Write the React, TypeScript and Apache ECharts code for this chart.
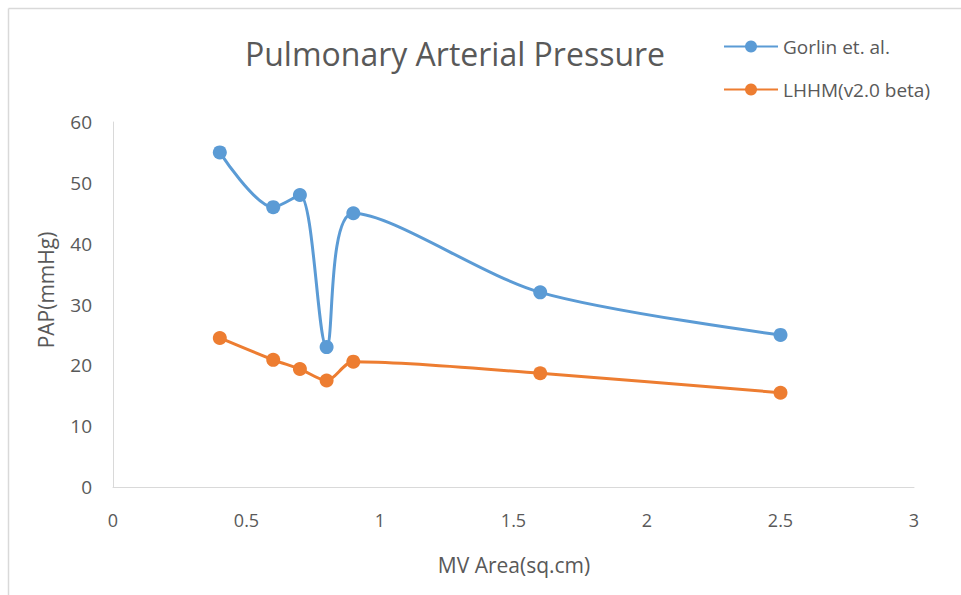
import React, { useEffect, useRef } from "react";
import * as echarts from "echarts";

const mvArea = [0.4, 0.6, 0.7, 0.8, 0.9, 1.6, 2.5];
const gorlin = [55, 46, 48, 23, 45, 32, 25];
const lhhm = [24.5, 20.9, 19.4, 17.5, 20.6, 18.7, 15.5];
const seriesNames = ["Gorlin et. al.", "LHHM(v2.0 beta)"];
const xTitle = "MV Area(sq.cm)";
const yTitle = "PAP(mmHg)";

const FONT = "'Open Sans', 'Noto Sans', sans-serif";
const GREY = "#595959";

export default function App() {
  const ref = useRef<HTMLDivElement>(null);
  useEffect(() => {
    if (!ref.current) return;
    const chart = echarts.init(ref.current, undefined, { renderer: "svg" });
    const pair = (ys: number[]) => mvArea.map((x, i) => [x, ys[i]]);
    chart.setOption({
      animation: false,
      backgroundColor: "#ffffff",
      title: {
        text: "Pulmonary Arterial Pressure",
        left: 450,
        textAlign: "center",
        top: 32,
        textStyle: { fontFamily: FONT, fontSize: 32, fontWeight: "normal", color: GREY },
      },
      legend: {
        orient: "vertical",
        left: 718,
        top: 32,
        itemGap: 24,
        itemWidth: 54,
        itemHeight: 15,
        textStyle: { fontFamily: FONT, fontSize: 19, color: GREY },
        data: seriesNames,
      },
      grid: { left: 113, right: 47, top: 122, bottom: 108, containLabel: false },
      xAxis: {
        type: "value",
        min: 0,
        max: 3,
        interval: 0.5,
        axisLine: { show: true, lineStyle: { color: "#d9d9d9", width: 1 } },
        axisTick: { show: false },
        splitLine: { show: false },
        axisLabel: { margin: 24, fontFamily: FONT, fontSize: 18, color: GREY },
      },
      yAxis: {
        type: "value",
        min: 0,
        max: 60,
        interval: 10,
        axisLine: { show: true, lineStyle: { color: "#d9d9d9", width: 1 } },
        axisTick: { show: false },
        splitLine: { show: false },
        axisLabel: { margin: 21, fontFamily: FONT, fontSize: 19, color: GREY },
      },
      graphic: [
        { type: "line", shape: { x1: 8.5, y1: 8.5, x2: 961, y2: 8.5 }, style: { stroke: "#d9d9d9", lineWidth: 1.5 } },
        { type: "line", shape: { x1: 8.5, y1: 8.5, x2: 8.5, y2: 595 }, style: { stroke: "#d9d9d9", lineWidth: 1.5 } },
        {
          type: "text",
          x: 514,
          y: 565,
          style: { text: xTitle, fontFamily: FONT, fontSize: 21, fill: GREY, align: "center", verticalAlign: "middle" },
        },
        {
          type: "text",
          x: 46,
          y: 290,
          rotation: Math.PI / 2,
          style: { text: yTitle, fontFamily: FONT, fontSize: 21, fill: GREY, align: "center", verticalAlign: "middle" },
        },
      ],
      series: [
        {
          name: seriesNames[0],
          type: "line",
          data: pair(gorlin),
          smooth: 0.3,
          symbol: "circle",
          symbolSize: 14,
          lineStyle: { width: 3, color: "#5b9bd5" },
          itemStyle: { color: "#5b9bd5" },
        },
        {
          name: seriesNames[1],
          type: "line",
          data: pair(lhhm),
          smooth: 0.3,
          symbol: "circle",
          symbolSize: 14,
          lineStyle: { width: 3, color: "#ed7d31" },
          itemStyle: { color: "#ed7d31" },
        },
      ],
    });
    return () => chart.dispose();
  }, []);
  return <div ref={ref} style={{ width: 961, height: 595, position: "absolute", left: 0, top: 0 }} />;
}
